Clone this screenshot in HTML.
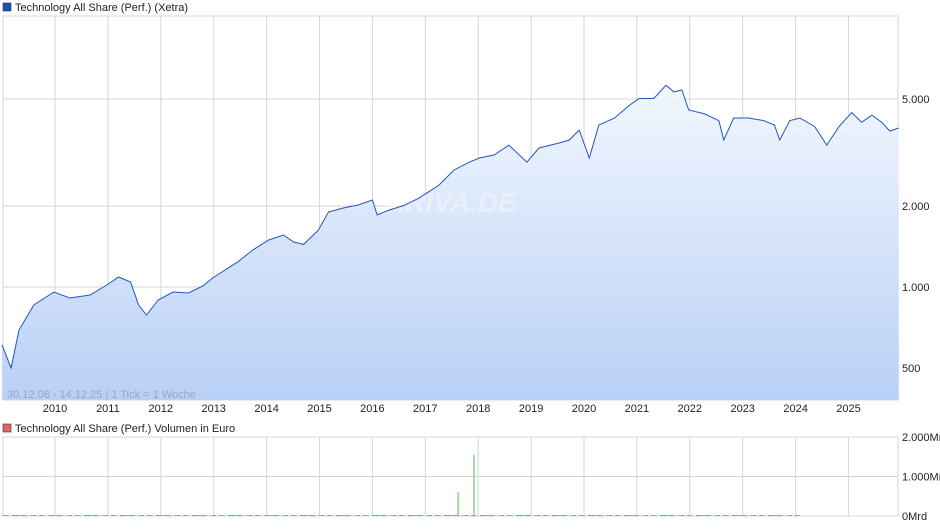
<!DOCTYPE html>
<html><head><meta charset="utf-8"><style>
body{margin:0;background:#fff;font-family:"Liberation Sans",sans-serif;}
svg text{font-family:"Liberation Sans",sans-serif;font-size:11px;fill:#222;}
</style></head><body>
<svg width="940" height="526" id="c">
<defs><linearGradient id="g" x1="0" y1="0" x2="0" y2="1"><stop offset="0" stop-color="#f2f7fe"/><stop offset="1" stop-color="#b9d0f6"/></linearGradient></defs>
<rect x="3" y="3" width="8" height="8" fill="#1c4fb8" stroke="#333" stroke-width="0.6"/>
<text x="15" y="11">Technology All Share (Perf.) (Xetra)</text>
<rect x="3" y="424" width="8" height="8" fill="#e06666" stroke="#333" stroke-width="0.6"/>
<text x="15" y="432">Technology All Share (Perf.) Volumen in Euro</text>
<g id="grid"></g>
<path id="area" fill="url(#g)"/>
<text x="385" y="212" style="font-size:28px;font-weight:bold;font-style:italic;fill:#fff;opacity:0.35">ARIVA.DE</text>
<path id="line" fill="none" stroke="#1f55c4" stroke-width="1"/>
<text x="7" y="398" style="fill:#9aa6b8">30.12.08 - 14.12.25 | 1 Tick = 1 Woche</text>
<g id="ax"></g>
<g id="vol"></g>
</svg>
<script>
const years=[2010,2011,2012,2013,2014,2015,2016,2017,2018,2019,2020,2021,2022,2023,2024,2025];
const yTicks=[500,1000,2000,5000];
const yTickLabels=["500","1.000","2.000","5.000"];
const dates=[2009.0,2009.17,2009.32,2009.6,2009.98,2010.28,2010.66,2010.98,2011.2,2011.43,2011.58,2011.73,2011.95,2012.23,2012.52,2012.8,2012.98,2013.45,2013.74,2014.04,2014.32,2014.51,2014.7,2014.98,2015.17,2015.45,2015.73,2016.0,2016.09,2016.32,2016.6,2016.88,2017.26,2017.54,2017.83,2018.02,2018.3,2018.58,2018.92,2019.15,2019.53,2019.72,2019.91,2020.1,2020.28,2020.57,2020.85,2021.04,2021.32,2021.55,2021.7,2021.85,2021.98,2022.28,2022.55,2022.64,2022.83,2023.11,2023.4,2023.6,2023.7,2023.89,2024.08,2024.36,2024.59,2024.82,2025.06,2025.25,2025.44,2025.63,2025.78,2025.95];
const values=[609,500,692,857,958,910,934,1017,1089,1044,857,787,895,958,950,1010,1080,1238,1373,1495,1561,1470,1440,1628,1900,1966,2018,2105,1853,1933,2010,2140,2394,2719,2911,3017,3096,3370,2911,3287,3430,3518,3832,3017,3997,4240,4723,5020,5020,5625,5310,5400,4548,4400,4150,3518,4250,4250,4150,4000,3518,4150,4250,3950,3370,3950,4450,4100,4350,4100,3800,3900];
const volDates=[2017.62,2017.92];
const volValues=[0.6,1.55];
const X=t=>55+(t-2010)*52.9;
const Y=v=>287-269*Math.log10(v/1000);
const VY=v=>516-39.5*v;
const ns="http://www.w3.org/2000/svg";
function mk(tag,at,parent){const e=document.createElementNS(ns,tag);for(const k in at)e.setAttribute(k,at[k]);document.getElementById(parent).appendChild(e);return e;}
mk('rect',{x:3,y:16,width:895,height:384,fill:'none',stroke:'#d6d6d6'},'grid');
mk('rect',{x:3,y:437,width:895,height:79,fill:'none',stroke:'#d6d6d6'},'grid');
years.forEach(y=>{
 const l=mk('line',{x1:X(y),x2:X(y),y1:16,y2:400,stroke:'#d6d6d6'},'grid');
 
 
 mk('line',{x1:X(y),x2:X(y),y1:437,y2:516,stroke:'#d6d6d6'},'grid');
 const t=mk('text',{x:X(y),y:412,'text-anchor':'middle'},'ax');t.textContent=y;
 
 
});
yTicks.forEach((v,i)=>{
 const l=mk('line',{x1:3,x2:898,y1:Y(v),y2:Y(v),stroke:'#d6d6d6'},'grid');
 
 
 const t=mk('text',{x:902,y:Y(v)+4},'ax');t.textContent=yTickLabels[i];
 
 
});
[[0,'0Mrd'],[1,'1.000Mrd'],[2,'2.000Mrd']].forEach(([v,s])=>{
 mk('line',{x1:3,x2:898,y1:VY(v),y2:VY(v),stroke:'#d6d6d6'},'grid');
 const t=mk('text',{x:902,y:VY(v)+4},'ax');t.textContent=s;
 
 
});
let d='';dates.forEach((t,i)=>{d+=(i?'L':'M')+X(t).toFixed(1)+','+Y(values[i]).toFixed(1);});
document.getElementById('line').setAttribute('d',d);
document.getElementById('area').setAttribute('d',d+'L'+X(dates[dates.length-1]).toFixed(1)+',400L'+X(dates[0]).toFixed(1)+',400Z');
mk('line',{x1:3,x2:800,y1:515.5,y2:515.5,stroke:'#e87d7d','stroke-dasharray':'6 3'},'vol');
mk('line',{x1:6,x2:800,y1:515.5,y2:515.5,stroke:'#7bdc7b','stroke-dasharray':'3 9'},'vol');
volDates.forEach((t,i)=>{
 const b=mk('line',{x1:X(t),x2:X(t),y1:516,y2:VY(volValues[i]),stroke:'#3ccf3c'},'vol');
 
 
});
</script>
</body></html>
